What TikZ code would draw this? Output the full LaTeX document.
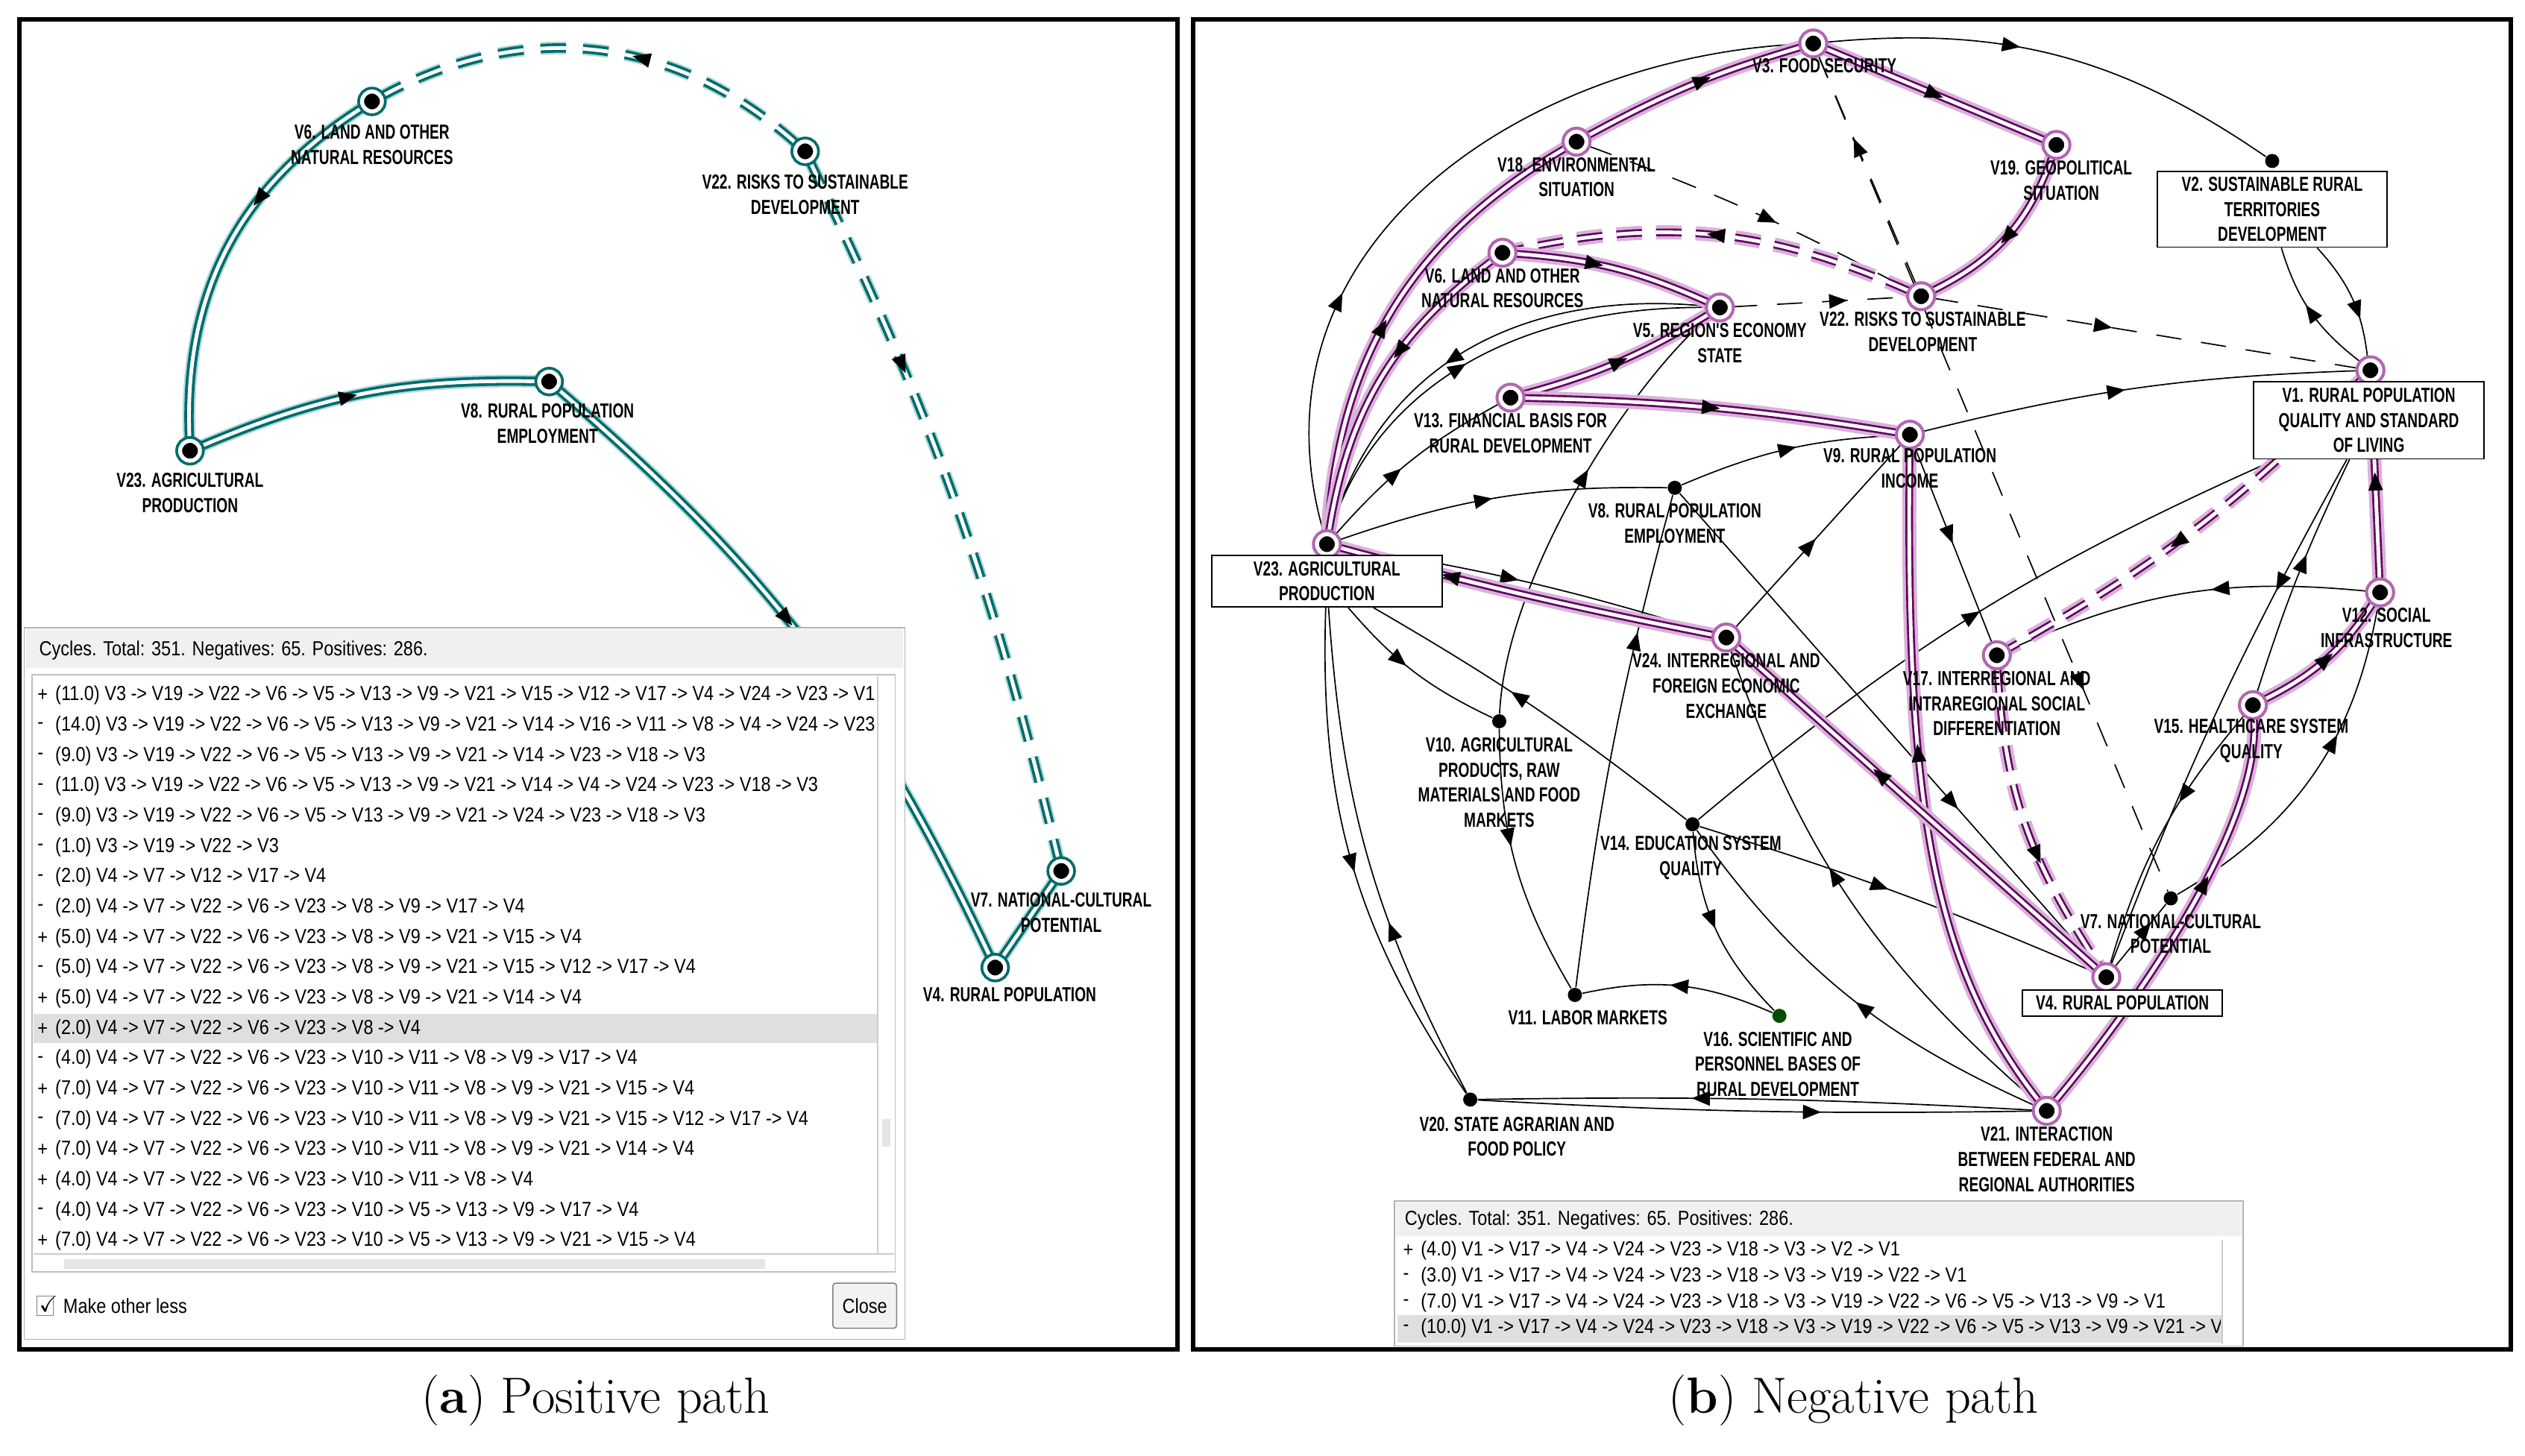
\documentclass[tikz,border=0pt]{standalone}
\usepackage{amssymb}
\usepackage{fontspec}
\usetikzlibrary{arrows.meta, decorations.markings, positioning}
\newfontfamily\cond{Liberation Sans}[FakeStretch=0.7]
\newfontfamily\listfont{Liberation Sans}[FakeStretch=0.86]
\pgfdeclarelayer{bg}
\pgfsetlayers{bg,main}

\tikzset{
	arr/.style={postaction={decorate, decoration={markings, mark=at position #1 with {\fill[black] (3.2pt,0) -- (-3.2pt,2.6pt) -- (-3.2pt,-2.6pt) -- cycle;}}}},
	arr/.default=0.5,
	plainEdge/.style={draw=black, line width=0.45pt},
	dashEdge/.style={draw=black, line width=0.45pt, dash pattern=on 9pt off 7pt},
	hlEdge/.style={draw=violet!75!black, line width=0.7pt, double=white, double distance=1.3pt, preaction={draw=violet!30, line width=5pt}},
	hlDash/.style={draw=violet!75!black, line width=0.7pt, double=white, double distance=1.3pt, dash pattern=on 9pt off 5pt, preaction={draw=violet!30, line width=5pt, dash pattern=on 9pt off 5pt}},
	tlEdge/.style={draw=teal!85!black, line width=1pt, double=white, double distance=1.3pt, preaction={draw=teal!30, line width=4.5pt}},
	tlDash/.style={draw=teal!85!black, line width=1pt, double=white, double distance=1.3pt, dash pattern=on 9pt off 6pt, preaction={draw=teal!30, line width=4.5pt, dash pattern=on 9pt off 6pt}},
	dot/.style={circle, fill=black, inner sep=0, minimum size=5pt},
	hlDot/.style={circle, fill=black, draw=white, line width=1.4pt, inner sep=0, minimum size=7pt, preaction={draw=violet!60, line width=3.6pt}},
	tlDot/.style={circle, fill=black, draw=white, line width=1.4pt, inner sep=0, minimum size=7pt, preaction={draw=teal!85!black, line width=3.4pt}},
	lbl/.style={font=\cond\bfseries\fontsize{7.2}{8.9}\selectfont, align=center, inner sep=0},
	box/.style={lbl, draw, line width=0.5pt, fill=white},
	listTxt/.style={font=\listfont\fontsize{7.2}{8}\selectfont, anchor=west, inner sep=0}
}

\begin{document}
\begin{tikzpicture}[x=0.2mm, y=-0.2mm]
	\useasboundingbox (0,0) rectangle (1568,904);
	% frames
	\draw[line width=1.6pt] (12,12) rectangle (731,838);
	\draw[line width=1.6pt] (741,12) rectangle (1559,838);

	%%%%% left panel: positive path
	\node[tlDot] (pV6) at (231,63) {};
	\node[tlDot] (pV22) at (500,94) {};
	\node[tlDot] (pV23) at (118,280) {};
	\node[tlDot] (pV8) at (341,237) {};
	\node[tlDot] (pV7) at (659,541) {};
	\node[tlDot] (pV4) at (618,601) {};
	\node[lbl] at (231,90) {V6. LAND AND OTHER\\NATURAL RESOURCES};
	\node[lbl] at (500,121) {V22. RISKS TO SUSTAINABLE\\DEVELOPMENT};
	\node[lbl] at (118,306) {V23. AGRICULTURAL\\PRODUCTION};
	\node[lbl] at (340,263) {V8. RURAL POPULATION\\EMPLOYMENT};
	\node[lbl] at (659,567) {V7. NATIONAL-CULTURAL\\POTENTIAL};
	\node[lbl] at (627,618) {V4. RURAL POPULATION};

	\begin{pgfonlayer}{bg}
	\draw[tlEdge, arr=0.35] (pV6) to[bend right=30] (pV23);
	\draw[tlEdge, arr=0.45] (pV23) to[bend left=12] (pV8);
	\draw[tlEdge, arr=0.45] (pV8) to[bend left=12] (pV4);
	\draw[tlDash, arr=0.4] (pV22) to[bend right=35] (pV6);
	\draw[tlDash, arr=0.3] (pV22) to[bend left=6] (pV7);
	\draw[tlEdge] (pV4) to (pV7);
	\end{pgfonlayer}

	% cycle list, left
	\draw[gray!60, fill=white] (15,390) rectangle (562,832);
	\fill[gray!12] (16,391) rectangle (561,415);
	\node[listTxt] (pTitle) at (24,404) {Cycles. Total: 351. Negatives: 65. Positives: 286.};
	\draw[gray!50] (20,419) rectangle (556,790);
	\fill[gray!25] (21,630) rectangle (545,648);
	\draw[gray!40] (545,420) -- (545,779) (21,779) -- (555,779);
	\fill[gray!20] (548,695) rectangle (553,712);
	\fill[gray!20] (40,782) rectangle (475,788);
	\begin{scope}
		\clip (21,420) rectangle (545,778);
		\foreach \sgn/\txt [count=\i] in {
			+/(11.0) V3 -> V19 -> V22 -> V6 -> V5 -> V13 -> V9 -> V21 -> V15 -> V12 -> V17 -> V4 -> V24 -> V23 -> V1,
			-/(14.0) V3 -> V19 -> V22 -> V6 -> V5 -> V13 -> V9 -> V21 -> V14 -> V16 -> V11 -> V8 -> V4 -> V24 -> V23,
			-/(9.0) V3 -> V19 -> V22 -> V6 -> V5 -> V13 -> V9 -> V21 -> V14 -> V23 -> V18 -> V3,
			-/(11.0) V3 -> V19 -> V22 -> V6 -> V5 -> V13 -> V9 -> V21 -> V14 -> V4 -> V24 -> V23 -> V18 -> V3,
			-/(9.0) V3 -> V19 -> V22 -> V6 -> V5 -> V13 -> V9 -> V21 -> V24 -> V23 -> V18 -> V3,
			-/(1.0) V3 -> V19 -> V22 -> V3,
			-/(2.0) V4 -> V7 -> V12 -> V17 -> V4,
			-/(2.0) V4 -> V7 -> V22 -> V6 -> V23 -> V8 -> V9 -> V17 -> V4,
			+/(5.0) V4 -> V7 -> V22 -> V6 -> V23 -> V8 -> V9 -> V21 -> V15 -> V4,
			-/(5.0) V4 -> V7 -> V22 -> V6 -> V23 -> V8 -> V9 -> V21 -> V15 -> V12 -> V17 -> V4,
			+/(5.0) V4 -> V7 -> V22 -> V6 -> V23 -> V8 -> V9 -> V21 -> V14 -> V4,
			+/(2.0) V4 -> V7 -> V22 -> V6 -> V23 -> V8 -> V4,
			-/(4.0) V4 -> V7 -> V22 -> V6 -> V23 -> V10 -> V11 -> V8 -> V9 -> V17 -> V4,
			+/(7.0) V4 -> V7 -> V22 -> V6 -> V23 -> V10 -> V11 -> V8 -> V9 -> V21 -> V15 -> V4,
			-/(7.0) V4 -> V7 -> V22 -> V6 -> V23 -> V10 -> V11 -> V8 -> V9 -> V21 -> V15 -> V12 -> V17 -> V4,
			+/(7.0) V4 -> V7 -> V22 -> V6 -> V23 -> V10 -> V11 -> V8 -> V9 -> V21 -> V14 -> V4,
			+/(4.0) V4 -> V7 -> V22 -> V6 -> V23 -> V10 -> V11 -> V8 -> V4,
			-/(4.0) V4 -> V7 -> V22 -> V6 -> V23 -> V10 -> V5 -> V13 -> V9 -> V17 -> V4,
			+/(7.0) V4 -> V7 -> V22 -> V6 -> V23 -> V10 -> V5 -> V13 -> V9 -> V21 -> V15 -> V4}
		{
			\node[listTxt] (pSgn\i) at (23,{432+18.83*(\i-1)}) {\sgn};
			\node[listTxt] (pRow\i) at (34,{432+18.83*(\i-1)}) {\txt};
		}
	\end{scope}
	\draw[gray] (23,805) rectangle (33,817);
	\node[listTxt] (pCheck) at (24,810) {\footnotesize$\checkmark$};
	\node[listTxt] (pMake) at (39,811) {Make other less};
	\node[draw=gray, fill=gray!10, rounded corners=1pt, font=\listfont\fontsize{7.2}{8}\selectfont, minimum width=7.4mm, minimum height=5.6mm] (pClose) at (537,811) {Close};

	%%%%% right panel: negative path
	\node[hlDot] (v3) at (1126,27) {};
	\node[hlDot] (v18) at (979,88) {};
	\node[hlDot] (v19) at (1277,90) {};
	\node[dot] (v2) at (1411,100) {};
	\node[hlDot] (v6) at (933,157) {};
	\node[hlDot] (v5) at (1068,191) {};
	\node[hlDot] (v22) at (1193,184) {};
	\node[hlDot] (v1) at (1472,230) {};
	\node[hlDot] (v13) at (938,247) {};
	\node[hlDot] (v9) at (1186,270) {};
	\node[dot] (v8) at (1040,303) {};
	\node[hlDot] (v23) at (824,338) {};
	\node[hlDot] (v12) at (1478,368) {};
	\node[hlDot] (v24) at (1072,396) {};
	\node[hlDot] (v17) at (1240,407) {};
	\node[hlDot] (v15) at (1399,438) {};
	\node[dot] (v10) at (931,448) {};
	\node[dot] (v14) at (1051,512) {};
	\node[dot] (v7) at (1348,558) {};
	\node[hlDot] (v4) at (1308,607) {};
	\node[dot] (v11) at (978,618) {};
	\node[dot, fill=green!30!black] (v16) at (1105,631) {};
	\node[dot] (v20) at (913,683) {};
	\node[hlDot] (v21) at (1271,690) {};

	\node[lbl] at (1133,41) {V3. FOOD SECURITY};
	\node[lbl] at (979,110) {V18. ENVIRONMENTAL\\SITUATION};
	\node[lbl] at (1280,112) {V19. GEOPOLITICAL\\SITUATION};
	\node[box, minimum width=28.6mm, minimum height=9.4mm] (v2box) at (1411,130) {V2. SUSTAINABLE RURAL\\TERRITORIES\\DEVELOPMENT};
	\node[lbl] at (933,179) {V6. LAND AND OTHER\\NATURAL RESOURCES};
	\node[lbl] at (1068,213) {V5. REGION'S ECONOMY\\STATE};
	\node[lbl] at (1194,206) {V22. RISKS TO SUSTAINABLE\\DEVELOPMENT};
	\node[box, minimum width=28.6mm, minimum height=9.6mm] (v1box) at (1471,261) {V1. RURAL POPULATION\\QUALITY AND STANDARD\\OF LIVING};
	\node[lbl] at (938,269) {V13. FINANCIAL BASIS FOR\\RURAL DEVELOPMENT};
	\node[lbl] at (1186,291) {V9. RURAL POPULATION\\INCOME};
	\node[lbl] at (1040,325) {V8. RURAL POPULATION\\EMPLOYMENT};
	\node[box, minimum width=28.6mm, minimum height=6.4mm] (v23box) at (824,361) {V23. AGRICULTURAL\\PRODUCTION};
	\node[lbl] at (1482,390) {V12. SOCIAL\\INFRASTRUCTURE};
	\node[lbl] at (1072,426) {V24. INTERREGIONAL AND\\FOREIGN ECONOMIC\\EXCHANGE};
	\node[lbl] at (1240,437) {V17. INTERREGIONAL AND\\INTRAREGIONAL SOCIAL\\DIFFERENTIATION};
	\node[lbl] at (1398,460) {V15. HEALTHCARE SYSTEM\\QUALITY};
	\node[lbl] at (931,486) {V10. AGRICULTURAL\\PRODUCTS, RAW\\MATERIALS AND FOOD\\MARKETS};
	\node[lbl] at (1050,533) {V14. EDUCATION SYSTEM\\QUALITY};
	\node[lbl] at (1348,580) {V7. NATIONAL-CULTURAL\\POTENTIAL};
	\node[box, minimum width=24.8mm, minimum height=3.2mm] (v4box) at (1318,623) {V4. RURAL POPULATION};
	\node[lbl] at (986,632) {V11. LABOR MARKETS};
	\node[lbl] at (1104,661) {V16. SCIENTIFIC AND\\PERSONNEL BASES OF\\RURAL DEVELOPMENT};
	\node[lbl] at (942,706) {V20. STATE AGRARIAN AND\\FOOD POLICY};
	\node[lbl] at (1271,720) {V21. INTERACTION\\BETWEEN FEDERAL AND\\REGIONAL AUTHORITIES};

	\begin{pgfonlayer}{bg}
	% plain links
	\draw[plainEdge, arr=0.3] (v23) .. controls (770,150) and (950,35) .. (v3);
	\draw[plainEdge, arr=0.4] (v3) to[bend left=20] (v2);
	\draw[plainEdge, arr=0.6] (v2box) to[bend left=18] (v1);
	\draw[plainEdge, arr=0.5] (v1) to[bend left=18] (v2box);
	\draw[plainEdge, arr=0.45] (v23) .. controls (850,250) and (930,190) .. (v5);
	\draw[plainEdge, arr=0.55] (v5) .. controls (960,180) and (860,215) .. (v23);
	\draw[plainEdge, arr=0.4] (v23) to[bend left=10] (v13);
	\draw[plainEdge, arr=0.45] (v23) to[bend left=10] (v8);
	\draw[plainEdge, arr=0.5] (v8) to[bend left=10] (v9);
	\draw[plainEdge, arr=0.45] (v9) to[bend left=6] (v1);
	\draw[plainEdge, arr=0.45] (v23) to[bend left=4] (v24);
	\draw[plainEdge, arr=0.4] (v23box) to[bend right=12] (v10);
	\draw[plainEdge, arr=0.5] (v23box) to[bend right=18] (v20);
	\draw[plainEdge, arr=0.35] (v20) to[bend left=12] (v23box);
	\draw[plainEdge, arr=0.55] (v14) to[bend right=4] (v23box);
	\draw[plainEdge, arr=0.55] (v10) .. controls (935,360) and (1010,240) .. (v5);
	\draw[plainEdge, arr=0.4] (v10) to[bend right=15] (v11);
	\draw[plainEdge, arr=0.7] (v11) to[bend left=4] (v8);
	\draw[plainEdge, arr=0.5] (v16) to[bend right=18] (v11);
	\draw[plainEdge, arr=0.45] (v14) to[bend right=20] (v16);
	\draw[plainEdge, arr=0.45] (v24) to (v9);
	\draw[plainEdge, arr=0.5] (v14) to[bend left=8] (v1box);
	\draw[plainEdge, arr=0.45] (v14) to[bend left=3] (v4);
	\draw[plainEdge, arr=0.45] (v21) to[bend left=15] (v14);
	\draw[plainEdge, arr=0.55] (v21) to[bend left=15] (v24);
	\draw[plainEdge, arr=0.6] (v20) to[bend right=2] (v21);
	\draw[plainEdge, arr=0.6] (v21) to[bend right=2] (v20);
	\draw[plainEdge, arr=0.65] (v8) to (v4);
	\draw[plainEdge, arr=0.45] (v9) to (v17);
	\draw[plainEdge, arr=0.4] (v12) to[bend right=15] (v17);
	\draw[plainEdge, arr=0.25] (v1box) to[bend right=4] (v4);
	\draw[plainEdge, arr=0.55] (v15) to[bend left=4] (v1box);
	\draw[plainEdge, arr=0.35] (v15) to[bend right=12] (v4);
	\draw[plainEdge, arr=0.6] (v7) to[bend right=25] (v12);
	\draw[plainEdge, arr=0.6] (v4) to (v7);
	% dashed links
	\draw[dashEdge, arr=0.55] (v18) to[bend left=4] (v22);
	\draw[dashEdge, arr=0.6] (v22) to (v3);
	\draw[dashEdge, arr=0.75] (v3) to (v7);
	\draw[dashEdge, arr=0.6] (v5) to (v22);
	\draw[dashEdge, arr=0.4] (v22) to (v1);
	% highlighted cycle
	\draw[hlEdge, arr=0.45] (v23) to[bend left=28] (v18);
	\draw[hlEdge, arr=0.55] (v18) to[bend left=6] (v3);
	\draw[hlEdge, arr=0.5] (v3) to (v19);
	\draw[hlEdge, arr=0.5] (v19) to[bend left=22] (v22);
	\draw[hlDash, arr=0.5] (v22) to[bend right=18] (v6);
	\draw[hlEdge, arr=0.4] (v6) to[bend left=10] (v5);
	\draw[hlEdge, arr=0.4] (v6) to[bend right=22] (v23);
	\draw[hlEdge, arr=0.5] (v13) to[bend right=8] (v5);
	\draw[hlEdge, arr=0.5] (v13) to[bend left=4] (v9);
	\draw[hlEdge, arr=0.55] (v21) .. controls (1200,600) and (1183,500) .. (v9);
	\draw[hlEdge, arr=0.6] (v21) .. controls (1330,620) and (1405,510) .. (v15);
	\draw[hlEdge, arr=0.5] (v15) to[bend right=15] (v12);
	\draw[hlEdge, arr=0.5] (v12) to (v1);
	\draw[hlDash, arr=0.55] (v1) to[bend left=8] (v17);
	\draw[hlDash, arr=0.6] (v17) .. controls (1245,500) and (1265,540) .. (v4);
	\draw[hlEdge, arr=0.6] (v4) to (v24);
	\draw[hlEdge, arr=0.7] (v24) to[bend left=2] (v23);
	\end{pgfonlayer}

	% cycle list, right
	\draw[gray!60, fill=white] (866,746) rectangle (1393,836);
	\fill[gray!12] (867,747) rectangle (1392,768);
	\node[listTxt] (nTitle) at (872,758) {Cycles. Total: 351. Negatives: 65. Positives: 286.};
	\fill[gray!25] (868,817) rectangle (1380,834);
	\draw[gray!40] (1380,770) -- (1380,835);
	\begin{scope}
		\clip (868,770) rectangle (1379,835);
		\foreach \sgn/\txt [count=\i] in {
			+/(4.0) V1 -> V17 -> V4 -> V24 -> V23 -> V18 -> V3 -> V2 -> V1,
			-/(3.0) V1 -> V17 -> V4 -> V24 -> V23 -> V18 -> V3 -> V19 -> V22 -> V1,
			-/(7.0) V1 -> V17 -> V4 -> V24 -> V23 -> V18 -> V3 -> V19 -> V22 -> V6 -> V5 -> V13 -> V9 -> V1,
			-/(10.0) V1 -> V17 -> V4 -> V24 -> V23 -> V18 -> V3 -> V19 -> V22 -> V6 -> V5 -> V13 -> V9 -> V21 -> V15}
		{
			\node[listTxt] (nSgn\i) at (871,{777+16*(\i-1)}) {\sgn};
			\node[listTxt] (nRow\i) at (882,{777+16*(\i-1)}) {\txt};
		}
	\end{scope}

	% captions
	\node[font=\fontsize{18}{20}\selectfont] (capA) at (370,870) {(\textbf{a}) Positive path};
	\node[font=\fontsize{18}{20}\selectfont] (capB) at (1151,870) {(\textbf{b}) Negative path};
\end{tikzpicture}
\end{document}
